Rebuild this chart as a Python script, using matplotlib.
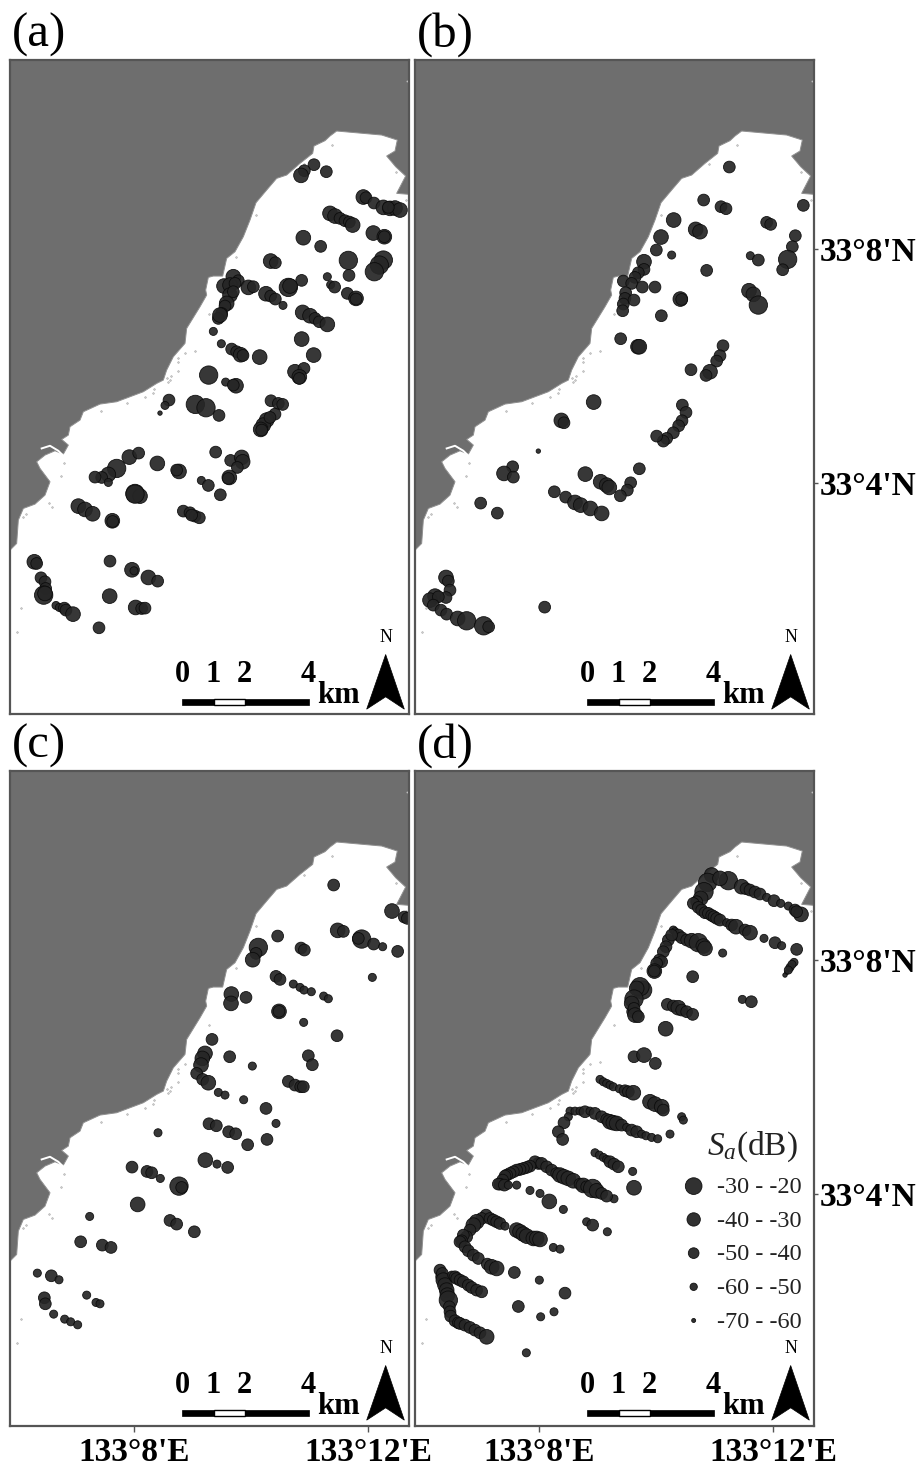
import numpy as np
import matplotlib
matplotlib.use('Agg')
import matplotlib.pyplot as plt
from matplotlib.patches import Polygon, Rectangle

plt.rcParams['font.family'] = ['Liberation Serif', 'DejaVu Serif']
plt.rcParams['mathtext.fontset'] = 'custom'
plt.rcParams['mathtext.it'] = 'Liberation Serif:italic'
plt.rcParams['mathtext.rm'] = 'Liberation Serif'

# survey points: (x, y, Sa class), class 1 = -30 - -20 dB ... class 5 = -70 - -60 dB
# x, y read off the 3x crops, map units are 1/3 pixel
A_TOP = [(942,344,3),(913,362,3),(903,376,2),(979,365,3),(1090,441,2),(1098,443,3),(1122,459,3),(1150,472,2),
         (1170,475,2),(1185,474,2),(1200,480,2),(1165,472,3),(990,490,2),(1005,498,2),(1020,505,3),(1035,512,3),
         (1048,516,3),(1058,525,2),(910,563,2),(962,589,3),(1120,549,2),(1153,560,2),(1153,560,3),(812,633,2),
         (826,638,3),(1045,631,1),(1047,676,3),(1150,630,1),(1138,645,1),(1123,665,1),(982,680,4),(992,704,4),
         (1004,711,3),(1042,730,3),(1068,745,2),(1068,747,3),(905,691,3),(865,712,1),(870,708,2),(700,680,2),
         (715,692,3),(672,708,2),(690,705,2),(705,700,3),(690,735,2),(700,725,3),(680,760,2),(675,768,3),
         (665,790,3),(655,805,3),(660,795,2),(745,712,2),(760,710,3),(798,731,2),(812,738,3),(826,747,3),
         (849,766,4),(908,787,2),(930,797,2),(945,805,3),(958,815,3),(982,823,2),(905,867,2),(941,915,2),
         (640,844,4),(664,881,4),(695,897,3),(710,905,3),(722,914,2),(729,916,3),(779,921,2),(885,965,2),
         (912,955,3),(898,980,2),(898,985,3),(626,975,1),(677,996,4),(708,1007,2),(700,1005,3)]
A_BOTTOM = [(507,60,3),(495,76,4),(480,99,5),(586,73,1),(618,83,1),(657,106,3),(813,62,3),(835,70,3),(848,73,3),
            (825,102,3),(800,120,2),(790,135,2),(782,148,2),(785,150,3),(810,112,3),(388,231,2),(416,219,3),
            (472,250,2),(350,265,1),(325,283,2),(305,292,3),(285,291,3),(325,307,4),(537,274,2),(530,270,3),
            (647,216,3),(692,241,3),(725,232,2),(728,245,2),(712,262,3),(688,292,2),(685,295,3),(604,301,4),
            (625,316,3),(661,344,3),(405,340,1),(420,348,2),(405,342,1),(235,378,2),(255,388,2),(278,401,2),
            (337,422,2),(338,424,3),(550,393,3),(570,398,3),(585,408,3),(598,413,3),(575,405,3),(103,545,2),
            (110,550,3),(330,543,3),(396,569,2),(402,572,4),(445,592,2),(473,603,3),(123,593,3),(135,605,3),
            (137,625,3),(131,645,1),(135,640,2),(168,676,4),(178,682,4),(193,684,3),(198,690,3),(219,702,2),
            (329,648,2),(407,682,2),(425,685,3),(435,684,3),(297,743,3)]

B_TOP = [(958,351,3),(881,450,3),(933,470,3),(948,476,3),(1180,466,3),(791,510,2),(857,538,2),(870,545,2),
         (1070,517,3),(1082,523,3),(753,561,2),(739,600,3),(785,615,4),(1156,557,3),(1147,590,3),(1133,628,1),
         (1118,659,3),(1021,617,4),(1045,630,3),(890,661,3),(702,635,2),(702,658,3),(685,668,3),(675,682,3),
         (640,693,3),(665,700,3),(697,711,3),(735,711,3),(647,728,3),(645,745,3),(640,762,3),(638,782,3),
         (672,750,3),(811,747,2),(815,748,3),(1017,722,2),(1030,733,2),(1045,765,1),(754,797,3),(632,866,3),
         (684,890,2),(688,890,2),(939,887,3),(930,917,3),(920,933,3),(843,959,3),(900,965,2),(888,976,3)]
B_BOTTOM = [(551,66,2),(454,121,2),(462,128,3),(817,75,3),(828,97,3),(816,122,3),(806,137,3),(790,158,3),
            (770,175,3),(760,183,3),(740,168,3),(385,213,5),(308,260,3),(282,280,2),(310,291,3),(526,282,2),
            (572,305,2),(590,315,2),(598,322,2),(688,266,3),(662,308,3),(652,330,3),(631,347,3),(433,335,3),
            (467,351,3),(495,367,2),(512,375,2),(541,385,2),(575,400,2),(212,369,3),(262,399,3),(108,592,2),
            (115,603,3),(120,630,3),(75,648,2),(60,660,2),(108,652,3),(85,650,3),(70,675,3),(93,690,3),
            (110,702,3),(143,715,2),(170,722,1),(221,737,1),(236,740,3),(404,681,3)]

C_TOP = [(1001,345,3),(1176,423,2),(1213,441,3),(1222,445,3),(1013,481,2),(1030,484,3),(1085,507,1),(1075,505,3),
         (1121,522,3),(1148,530,4),(1193,544,3),(833,498,3),(775,532,1),(768,550,3),(758,569,2),(903,534,3),
         (913,540,3),(828,619,3),(840,628,3),(880,642,4),(900,652,4),(912,660,4),(934,665,4),(971,678,4),
         (985,686,4),(1117,622,4),(694,672,2),(693,700,2),(738,682,3),(837,724,2),(837,724,3),(911,757,4),
         (1011,797,3),(636,808,3),(615,850,2),(607,865,2),(603,885,2),(590,910,3),(608,928,3),(625,938,2),
         (689,860,3),(757,888,4),(925,857,3),(937,884,3),(865,934,3),(885,945,3),(902,950,3),(910,950,3),
         (655,967,4),(675,975,4),(731,989,4),(798,1015,3)]
C_BOTTOM = [(627,41,3),(649,47,3),(686,65,3),(707,71,3),(743,104,3),(828,40,4),(801,88,3),(474,68,4),(616,150,2),
            (651,162,4),(683,172,3),(396,171,3),(441,184,3),(455,188,3),(481,205,4),(537,228,1),(545,232,3),
            (413,283,2),(269,319,4),(510,331,3),(530,342,3),(583,365,3),(242,395,3),(307,405,3),(333,412,3),
            (112,489,4),(154,497,3),(177,509,4),(133,563,3),(136,581,3),(161,612,4),(194,627,4),(212,635,4),
            (233,644,4),(260,555,4),(288,577,4),(300,581,4)]

D_TOP = [(905,315,2),(955,332,1),(893,337,1),(882,365,1),(930,325,2),(872,385,2),(860,395,3),(995,350,2),(1008,356,3),
         (1020,360,3),(1035,366,3),(1050,372,3),(1070,382,4),(1092,392,3),(1112,400,4),(1135,408,4),(1155,420,3),
         (1173,433,2),(1160,425,3),(850,400,3),(865,412,3),(875,420,3),(885,428,3),(895,430,3),(905,436,3),(912,440,3),
         (920,445,3),(930,450,3),(950,458,4),(965,465,3),(978,470,2),(1005,480,3),(1020,488,2),(1062,505,4),(1095,518,3),
         (1115,527,4),(1160,538,3),(1152,577,4),(1140,592,4),(1130,607,5),(1125,615,5),(1146,583,4),(1135,600,4),
         (790,480,4),(795,485,4),(805,495,3),(815,503,3),(830,510,3),(845,512,2),(865,518,1),(880,528,2),(885,535,2),
         (775,510,3),(768,530,3),(785,495,3),(760,545,3),(748,570,3),(755,575,3),(740,580,3),(733,603,2),(733,603,3),
         (938,549,4),(848,620,3),(698,660,1),(690,650,1),(680,655,2),(672,687,1),(665,700,2),(668,725,3),(672,715,3),
         (675,735,2),(685,740,3),(772,703,3),(790,708,3),(805,713,2),(815,720,3),(830,725,3),(848,733,3),(997,688,4),
         (1024,695,3),(767,776,2),(672,860,3),(702,855,2),(736,880,3),(570,928,4),(580,935,4),(590,940,4),(600,945,4),
         (610,950,4),(628,956,4),(645,962,3),(655,965,3),(670,968,2),(720,995,2),(735,1002,2),(755,1010,2)]
D_BOTTOM = [(480,3,4),(495,3,4),(510,3,4),(525,5,3),(540,3,4),(555,10,3),(575,20,3),(590,28,3),(600,35,2),(610,38,2),
            (620,40,2),(635,45,3),(650,52,4),(665,60,3),(680,65,3),(695,72,4),(708,77,4),(725,82,4),(743,86,4),(780,72,4),
            (760,0,3),(815,20,4),(820,30,4),(475,20,4),(462,38,3),(445,65,3),(458,88,3),(555,128,4),(568,135,4),(580,142,4),
            (590,148,4),(600,155,3),(612,162,3),(625,170,3),(668,184,4),(672,233,2),(612,266,4),(385,160,3),(375,155,3),
            (395,160,3),(360,168,3),(350,172,3),(340,175,3),(330,178,3),(320,180,3),(310,185,3),(300,190,3),(290,195,3),
            (285,198,3),(278,210,3),(270,222,3),(265,222,3),(283,225,3),(295,225,4),(320,225,4),(410,170,3),(425,180,3),
            (440,190,3),(450,195,2),(462,200,2),(475,205,2),(490,212,2),(510,222,3),(520,226,2),(530,230,3),(548,235,1),
            (560,242,2),(575,250,3),(590,258,3),(360,241,4),(390,250,4),(418,274,2),(460,298,4),(530,335,4),(548,345,3),
            (592,365,4),(228,315,3),(215,325,3),(200,335,2),(190,345,2),(180,360,3),(170,380,3),(160,375,3),(155,392,3),
            (150,395,3),(165,410,3),(175,422,3),(190,435,3),(205,445,3),(232,462,3),(245,470,2),(260,475,2),(240,325,3),
            (250,330,3),(260,335,3),(270,340,3),(285,348,4),(320,360,2),(330,365,2),(340,372,2),(350,378,2),(370,385,2),
            (380,385,2),(390,388,2),(430,412,4),(450,417,4),(313,487,3),(388,510,4),(465,549,3),(325,589,3),(432,605,4),
            (392,620,4),(349,728,4),(90,480,3),(95,500,3),(97,490,3),(100,510,2),(105,525,2),(110,540,2),(112,555,2),
            (115,570,1),(118,590,3),(120,605,3),(122,618,3),(125,495,4),(135,500,3),(140,505,3),(150,510,3),(160,515,3),
            (175,525,3),(185,532,3),(200,540,3),(215,545,3),(135,632,3),(145,638,3),(150,640,3),(165,645,3),(180,652,3),
            (195,660,3),(210,668,3),(230,680,2)]

# coast and small seamarks
COAST_TOP = [(1228,433),(1190,430),(1217,378),(1187,350),(1160,318),(1185,303),(1192,270),(1145,255),(1010,243),
             (990,258),(975,272),(942,288),(938,310),(900,340),(860,375),(830,385),(800,420),(768,458),(750,510),
             (730,560),(705,605),(680,625),(668,678),(640,678),(625,682),(617,720),(620,735),(600,770),(560,835),
             (555,880),(520,920),(500,960)]
COAST_BOTTOM = [(490,0),(470,10),(430,35),(350,65),(300,72),(250,95),(240,120),(210,140),(205,165),(185,178),
                (205,195),(190,222),(165,212),(135,225),(110,245),(120,265),(150,305),(135,345),(105,372),
                (70,385),(55,420),(50,490),(30,510)]
INLET = [(125,205),(150,197),(175,212),(190,227)]
MARKS_TOP = [(997,286),(913,342),(1187,366),(767,495),(708,622),(1219,450),(628,793),(584,902),(555,908),(533,925),
             (533,937),(535,964),(512,978),(510,990),(500,985),(503,995),(1222,93)]
MARKS_BOTTOM = [(462,28),(458,40),(435,50),(380,68),(303,93),(193,248),(182,287),(147,368),(155,381),(77,402),
                (70,410),(63,685),(51,755)]

panel_names = ['(a)', '(b)', '(c)', '(d)']
legend_labels = ['-30 - -20', '-40 - -30', '-50 - -40', '-60 - -50', '-70 - -60']
legend_classes = [1, 2, 3, 4, 5]
scale_km = [0, 1, 2, 4]
lon_labels = ["133°8'E", "133°12'E"]
lat_labels = ["33°8'N", "33°4'N"]

W, H = 919, 1466
MAP_W, MAP_H = 1197, 1963
RADIUS = {1: 25, 2: 20, 3: 16, 4: 11, 5: 6}
LON_TICKS = [373, 1074]
LAT_TICKS = [568, 1268]
LAND = '#6e6e6e'


def sizes(classes, scale=1.0):
    # radius in map units -> scatter area in points^2
    return [(2 * RADIUS[c] * scale / 3 * 0.72) ** 2 for c in classes]


def to_map(top, bottom, dx, dy_top, dy_bottom):
    pts = [(p[0] - dx, p[1] + dy_top) + tuple(p[2:]) for p in top]
    pts += [(p[0] - dx, p[1] + dy_bottom) + tuple(p[2:]) for p in bottom]
    return np.array(pts, dtype=float)


def draw_panel(rect, name, points, lat=False, lon=False):
    x0, y0, w, h = rect
    ax = fig.add_axes([x0 / W, 1 - (y0 + h) / H, w / W, h / H])
    ax.set_xlim(0, MAP_W)
    ax.set_ylim(MAP_H, 0)

    coast = to_map(COAST_TOP, COAST_BOTTOM, 30, -30, 960)
    land = np.vstack([coast, [[0, 0], [MAP_W, 0], [MAP_W, coast[0, 1]]]])
    ax.add_patch(Polygon(land, closed=True, fc=LAND, ec='#909090', lw=0.7, zorder=1))
    inlet = np.array(INLET, dtype=float) + [-30, 960]
    ax.plot(inlet[:, 0], inlet[:, 1], color='white', lw=1.4, zorder=2)

    marks = to_map(MARKS_TOP, MARKS_BOTTOM, 30, -30, 960)
    ax.scatter(marks[:, 0], marks[:, 1], s=1.5, fc='#cccccc', ec='#999999', lw=0.3, zorder=2)

    ax.scatter(points[:, 0], points[:, 1], s=sizes(points[:, 2].astype(int), 1.1), c='#262626',
               edgecolors='#0a0a0a', linewidths=0.6, alpha=0.92, zorder=3)

    # scale bar
    edges = [515 + km * 95.5 for km in scale_km]
    ax.add_patch(Rectangle((edges[0], 1917), edges[1] - edges[0], 18, fc='black', ec='black', lw=0.5, zorder=4))
    ax.add_patch(Rectangle((edges[1], 1917), edges[2] - edges[1], 18, fc='white', ec='black', lw=1.0, zorder=4))
    ax.add_patch(Rectangle((edges[2], 1917), edges[3] - edges[2], 18, fc='black', ec='black', lw=0.5, zorder=4))
    for km, lx in zip(scale_km, [517, 610, 703, 895]):
        ax.text(lx, 1842, str(km), fontsize=22, fontweight='bold', ha='center', va='center', zorder=5)
    ax.text(985, 1907, 'km', fontsize=22, fontweight='bold', ha='center', va='center', zorder=5)

    # north arrow
    ax.add_patch(Polygon([(1127, 1783), (1070, 1947), (1127, 1910), (1183, 1947)], closed=True,
                         fc='black', ec='black', lw=0.5, zorder=4))
    ax.text(1127, 1733, 'N', fontsize=13, ha='center', va='center', zorder=5)

    ax.text(0.005, 1 + 13 / h, name, transform=ax.transAxes, fontsize=35, va='baseline', ha='left')

    for side in ax.spines.values():
        side.set_color('#555555')
        side.set_linewidth(1.6)
        side.set_zorder(6)

    ax.xaxis.set_ticks_position('bottom')
    ax.yaxis.set_ticks_position('right')
    ax.set_xticks(LON_TICKS if lon else [])
    ax.set_xticklabels(lon_labels if lon else [], fontsize=24, fontweight='bold')
    ax.set_yticks(LAT_TICKS if lat else [])
    ax.set_yticklabels(lat_labels if lat else [], fontsize=24, fontweight='bold')
    ax.tick_params(axis='x', length=4, width=1, color='#555555', pad=4)
    ax.tick_params(axis='y', length=3, width=1, color='#555555', pad=1)
    return ax


fig = plt.figure(figsize=(W / 100, H / 100), dpi=100, facecolor='white')

draw_panel((10, 60, 399, 654.5), panel_names[0], to_map(A_TOP, A_BOTTOM, 30, -30, 960))
draw_panel((415, 60, 399, 654.5), panel_names[1], to_map(B_TOP, B_BOTTOM, 15, -30, 960), lat=True)
draw_panel((10, 771, 399, 654.5), panel_names[2], to_map(C_TOP, C_BOTTOM, 30, -3, 1017), lon=True)
ax_d = draw_panel((415, 771, 399, 654.5), panel_names[3], to_map(D_TOP, D_BOTTOM, 15, -3, 1017), lat=True, lon=True)

# legend of panel (d)
leg_y = [1245, 1345, 1446, 1547, 1648]
ax_d.scatter([836] * 5, leg_y, s=sizes(legend_classes), c='#262626', edgecolors='#0a0a0a',
             linewidths=0.6, alpha=0.95, zorder=5)
for yy, lab in zip(leg_y, legend_labels):
    ax_d.text(905, yy + 5, lab, fontsize=17.5, ha='left', va='center', color='#222222', zorder=5)
ax_d.text(875, 1127, r'$\mathit{S_a}$(dB)', fontsize=24, ha='left', va='center', color='#222222', zorder=5)

fig.savefig('out.png', dpi=100, facecolor='white')
